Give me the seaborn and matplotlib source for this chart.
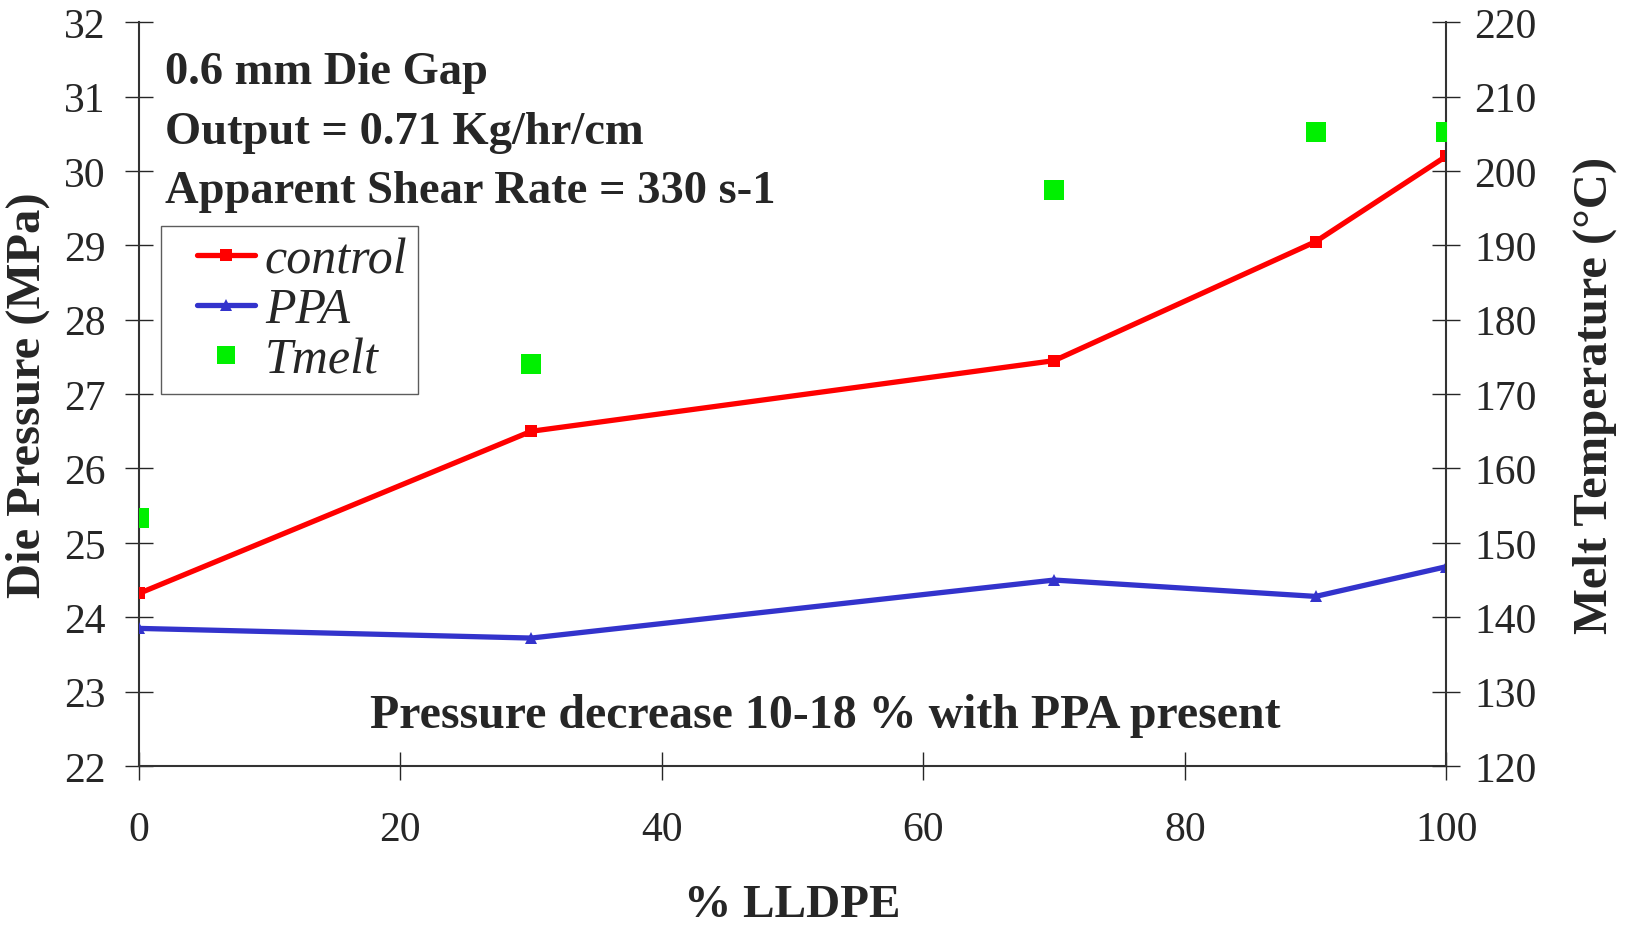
import matplotlib
matplotlib.use("Agg")
import matplotlib.pyplot as plt
import seaborn as sns
import pandas as pd
from matplotlib.lines import Line2D
from matplotlib.legend_handler import HandlerLine2D

# data
lldpe = [0, 30, 70, 90, 100]
control = [24.32, 26.5, 27.45, 29.05, 30.2]
ppa = [23.85, 23.72, 24.5, 24.28, 24.68]
tmelt = [153.3, 174.0, 197.4, 205.3, 205.3]

df = pd.DataFrame({"lldpe": lldpe, "control": control, "PPA": ppa, "Tmelt": tmelt})

sns.set_theme(style="ticks")
plt.rcParams["font.family"] = ["Liberation Serif", "DejaVu Serif"]

fig = plt.figure(figsize=(16.27, 9.28), dpi=100)
ax = fig.add_axes([0.0854, 0.1735, 0.889 - 0.0854, 0.975 - 0.1735])
ax2 = ax.twinx()

red = "#ff0000"
blue = "#3333cc"
green = "#00f000"

sns.lineplot(data=df, x="lldpe", y="control", ax=ax, color=red, lw=3.8,
             marker="s", markersize=8, markeredgewidth=0, zorder=3)
sns.lineplot(data=df, x="lldpe", y="PPA", ax=ax, color=blue, lw=3.8,
             marker="^", markersize=9, markeredgewidth=0, zorder=3)
sns.scatterplot(data=df, x="lldpe", y="Tmelt", ax=ax2, color=green, marker="s",
                s=190, linewidth=0, zorder=3)

ax.set_xlim(0, 100)
ax.set_ylim(22, 32)
ax2.set_ylim(120, 220)
ax.set_xticks(range(0, 101, 20))
ax.set_yticks(range(22, 33))
ax2.set_yticks(range(120, 221, 10))

for a in (ax, ax2):
    a.spines["top"].set_visible(False)
    for s in a.spines.values():
        s.set_color("#333333")
        s.set_linewidth(1.5)
ax.spines["right"].set_visible(False)
ax2.spines["left"].set_visible(False)
ax2.spines["bottom"].set_visible(False)

ax.tick_params(axis="x", direction="inout", length=20, width=1, pad=22, labelsize=30)
ax.tick_params(axis="y", direction="inout", length=20, width=1, pad=14, labelsize=30)
ax2.tick_params(axis="y", direction="inout", length=20, width=1, pad=10, labelsize=30)

ax.set_xlabel("% LLDPE", fontsize=34, fontweight="bold", labelpad=25)
ax.set_ylabel("Die Pressure (MPa)", fontsize=35, fontweight="bold", labelpad=10)
ax2.set_ylabel("Melt Temperature (°C)", fontsize=35, fontweight="bold", labelpad=26)

ax.text(2, 31.33, "0.6 mm Die Gap", fontsize=33.5, fontweight="bold", va="center", ha="left")
ax.text(2, 30.53, "Output = 0.71 Kg/hr/cm", fontsize=33.5, fontweight="bold", va="center", ha="left")
ax.text(2, 29.73, "Apparent Shear Rate = 330 s-1", fontsize=33.5, fontweight="bold", va="center", ha="left")
ax.text(52.5, 22.68, "Pressure decrease 10-18 % with PPA present", fontsize=34.5,
        fontweight="bold", va="center", ha="center")

handles = [
    Line2D([], [], color=red, lw=3.8, marker="s", markersize=8, markeredgewidth=0),
    Line2D([], [], color=blue, lw=3.8, marker="^", markersize=9, markeredgewidth=0),
    Line2D([], [], color=green, lw=0, marker="s", markersize=13, markeredgewidth=0),
]
leg = ax2.legend(handles, ["control", "PPA", "Tmelt"], loc="upper left",
                 bbox_to_anchor=(0.0167, 0.726), frameon=True, fancybox=False,
                 prop={"family": "Liberation Serif", "style": "italic", "size": 36},
                 handlelength=1.66, borderpad=0.22, labelspacing=0.07, handletextpad=0.2,
                 borderaxespad=0, handler_map={Line2D: HandlerLine2D(xpad=0.5)})
leg.get_frame().set_edgecolor("#333333")
leg.get_frame().set_linewidth(1)

fig.savefig("out.png", dpi=100)
